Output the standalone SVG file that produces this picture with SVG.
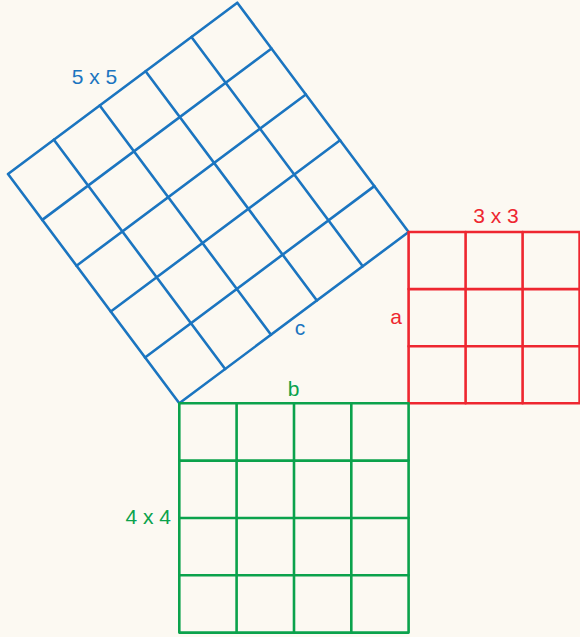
<svg xmlns="http://www.w3.org/2000/svg" width="580" height="637" viewBox="0 0 580 637">
<style>
.bg{fill:#fcf9f2}
.g{fill:none;stroke-width:2.6;stroke-linecap:round;stroke-linejoin:round}
.blue{stroke:#1b75c0}
.red{stroke:#ee2730}
.green{stroke:#0ba24c}
text{font-family:"Liberation Sans",Arial,sans-serif;font-size:21px}
.tb{fill:#1b75c0}.tr{fill:#ee2730}.tg{fill:#0ba24c}
</style>
<rect class="bg" x="0" y="0" width="580" height="637"/>
<g id="square-c" class="g blue">
<polygon points="179.3,403.3 408.6,232 237.3,2.7 8,174"/>
<path d="M145.04,357.44L374.34,186.14M110.78,311.58L340.08,140.28M76.52,265.72L305.82,94.42M42.26,219.86L271.56,48.56M225.16,369.04L53.86,139.74M271.02,334.78L99.72,105.48M316.88,300.52L145.58,71.22M362.74,266.26L191.44,36.96"/>
</g>
<g id="square-a" class="g red">
<rect x="408.6" y="232" width="171" height="171.3"/>
<path d="M465.6,232V403.3M522.6,232V403.3M408.6,289.1H579.6M408.6,346.2H579.6"/>
</g>
<g id="square-b" class="g green">
<rect x="179.3" y="403.3" width="229.3" height="229.3"/>
<path d="M236.6,403.3V632.6M294,403.3V632.6M351.3,403.3V632.6M179.3,460.6H408.6M179.3,518H408.6M179.3,575.3H408.6"/>
</g>
<g id="labels">
<text class="tb" x="94.5" y="84" text-anchor="middle">5 x 5</text>
<text class="tr" x="496" y="223" text-anchor="middle">3 x 3</text>
<text class="tr" x="396" y="324" text-anchor="middle">a</text>
<text class="tg" x="293.5" y="396" text-anchor="middle">b</text>
<text class="tb" x="300" y="335" text-anchor="middle">c</text>
<text class="tg" x="171" y="523.5" text-anchor="end">4 x 4</text>
</g>
</svg>
